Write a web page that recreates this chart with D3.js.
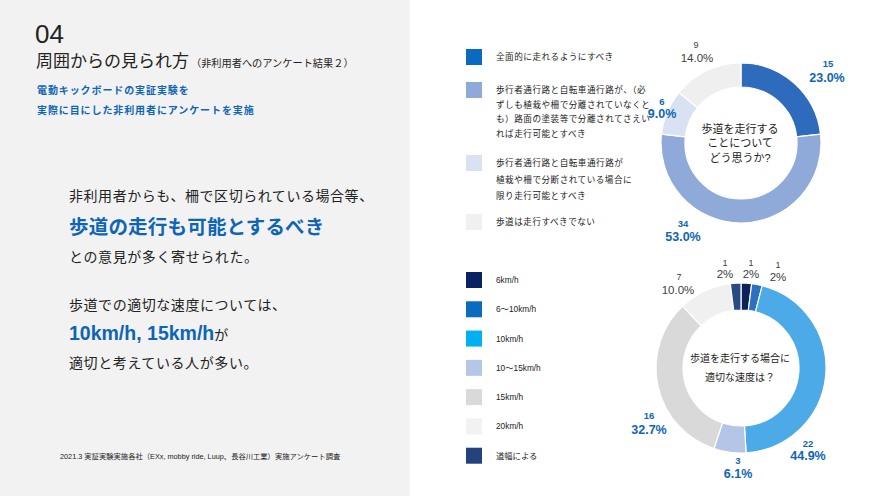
<!DOCTYPE html>
<html><head><meta charset="utf-8">
<script src="https://cdn.jsdelivr.net/npm/d3@7"></script>
<style>
html,body{margin:0;padding:0;background:#fff;}
svg{display:block;font-family:"Liberation Sans","Noto Sans CJK JP",sans-serif;}
</style></head>
<body><svg id="c" width="880" height="496"></svg>
<script>
// ---- data ----
const q1Categories = ["全面的に走れるようにすべき","歩行者通行路と自転車通行路が、（必ずしも植栽や柵で分離されていなくとも）路面の塗装等で分離されてさえいれば走行可能とすべき","歩行者通行路と自転車通行路が植栽や柵で分断されている場合に限り走行可能とすべき","歩道は走行すべきでない"];
const q1LegendLines = [
  ["全面的に走れるようにすべき"],
  ["歩行者通行路と自転車通行路が、（必","ずしも植栽や柵で分離されていなくと","も）路面の塗装等で分離されてさえい","れば走行可能とすべき"],
  ["歩行者通行路と自転車通行路が","植栽や柵で分断されている場合に","限り走行可能とすべき"],
  ["歩道は走行すべきでない"]
];
const q1Counts = [15, 34, 6, 9];
const q1Percents = [23.0, 53.0, 9.0, 14.0];
const q1PctLabels = ["23.0%","53.0%","9.0%","14.0%"];

const q2Categories = ["6km/h","6〜10km/h","10km/h","10〜15km/h","15km/h","20km/h","道幅による"];
const q2Counts = [1, 1, 22, 3, 16, 7, 1];
const q2Percents = [2, 2, 44.9, 6.1, 32.7, 10.0, 2];
const q2PctLabels = ["2%","2%","44.9%","6.1%","32.7%","10.0%","2%"];

// ---- styles / layout ----
const q1ArcColors = ["#2e6bbd","#8fa9d9","#d9e2f3","#efefef"];
const q1LegColors = ["#0a6abf","#8eaadb","#d9e2f3","#f0f0f0"];
const q1LabelBlue = [true,true,true,false];
const q1LabelOff = [[[87,-80],[86,-65]],[[-58,80],[-58,94]],[[-79,-42],[-79,-29]],[[-45,-98],[-44,-85]]];
const q1LegY = [49, 82, 155, 214];
const q1LineGap = [15, 14.7, 16.7, 15];

const q2ArcColors = ["#0c2259","#2e6fc0","#4daae8","#b4c5e7","#d9d9d9","#f0f0f0","#2a4a84"];
const q2LegColors = ["#0b2262","#0b6bbf","#00b0f0","#b4c7e7","#d9d9d9","#f2f2f2","#24437d"];
const q2LabelBlue = [false,false,true,true,true,false,false];
const q2LabelOff = [[[10,-105],[10,-94]],[[37,-103],[37,-91]],[[67,75],[67,88]],[[-3,92],[-3,106]],[[-92,47],[-92,62]],[[-62,-91],[-63,-78]],[[-16,-105],[-16,-94]]];

const BLUE = "#0f65b5", DARK = "#222", GREY = "#404040";
const svg = d3.select("#c");

// left panel
svg.append("rect").attr("x",0).attr("y",0).attr("width",410).attr("height",496).attr("fill","#f2f2f2");
svg.append("text").attr("x",35).attr("y",43).attr("font-size",26).attr("fill",DARK).text("04");
const t2 = svg.append("text").attr("x",36).attr("y",67).attr("fill",DARK);
t2.append("tspan").attr("font-size",17).text("周囲からの見られ方");
t2.append("tspan").attr("font-size",10.2).attr("dx",2).text("（非利用者へのアンケート結果２）");
svg.append("text").attr("x",37).attr("y",94).attr("font-size",10).attr("letter-spacing",0.9).attr("font-weight","bold").attr("fill",BLUE).text("電動キックボードの実証実験を");
svg.append("text").attr("x",37).attr("y",114).attr("font-size",10).attr("letter-spacing",0.9).attr("font-weight","bold").attr("fill",BLUE).text("実際に目にした非利用者にアンケートを実施");

const body = [
  {y:201, s:14, c:DARK, w:"normal", ls:0.55, t:"非利用者からも、柵で区切られている場合等、"},
  {y:234, s:19.5, c:BLUE, w:"bold", ls:0.2, t:"歩道の走行も可能とするべき"},
  {y:262, s:14, c:DARK, w:"normal", ls:0.6, t:"との意見が多く寄せられた。"},
  {y:310, s:14, c:DARK, w:"normal", ls:0.55, t:"歩道での適切な速度については、"},
  {y:368, s:14, c:DARK, w:"normal", ls:0.6, t:"適切と考えている人が多い。"}
];
body.forEach(b=>svg.append("text").attr("x",69).attr("y",b.y).attr("font-size",b.s).attr("letter-spacing",b.ls).attr("font-weight",b.w).attr("fill",b.c).text(b.t));
const sp = svg.append("text").attr("x",69).attr("y",340);
sp.append("tspan").attr("font-size",19.5).attr("font-weight","bold").attr("fill",BLUE).text("10km/h, 15km/h");
sp.append("tspan").attr("font-size",14).attr("fill",DARK).text("が");
svg.append("text").attr("x",60).attr("y",459).attr("font-size",7.3).attr("fill",DARK)
  .text("2021.3 実証実験実施各社（EXx, mobby ride, Luup、長谷川工業）実施アンケート調査");

// donut helper
function donut(cx, cy, rIn, rOut, values, colors, counts, pcts, offs, blue, centerLines, centerSize, centerGap){
  const g = svg.append("g").attr("transform",`translate(${cx},${cy})`);
  const pie = d3.pie().sort(null).value(d=>d)(values);
  const arc = d3.arc().innerRadius(rIn).outerRadius(rOut);
  g.selectAll("path").data(pie).join("path").attr("d",arc)
    .attr("fill",(d,i)=>colors[i]).attr("stroke","#fff").attr("stroke-width",1.2);
  pie.forEach((d,i)=>{
    const col = blue[i] ? BLUE : GREY;
    g.append("text").attr("x",offs[i][0][0]).attr("y",offs[i][0][1]).attr("text-anchor","middle")
      .attr("dominant-baseline","central").attr("font-size",blue[i]?9.5:9).attr("font-weight",blue[i]?"bold":"normal").attr("fill",col).text(counts[i]);
    g.append("text").attr("x",offs[i][1][0]).attr("y",offs[i][1][1]).attr("text-anchor","middle")
      .attr("dominant-baseline","central").attr("font-size",blue[i]?12.5:11.5).attr("font-weight",blue[i]?"bold":"normal").attr("fill",col).text(pcts[i]);
  });
  const n = centerLines.length;
  centerLines.forEach((t,i)=>{
    g.append("text").attr("x",-1).attr("y",(i-(n-1)/2)*centerGap).attr("text-anchor","middle")
      .attr("dominant-baseline","central").attr("font-size",centerSize).attr("fill",DARK).text(t);
  });
}
donut(741,143,56,80,q1Percents,q1ArcColors,q1Counts,q1PctLabels,q1LabelOff,q1LabelBlue,["歩道を走行する","ことについて","どう思うか?"],11,14.5);
donut(741,368,58,85,q2Percents,q2ArcColors,q2Counts,q2PctLabels,q2LabelOff,q2LabelBlue,["歩道を走行する場合に","適切な速度は？"],10,19);

// legends
q1Categories.forEach((c,i)=>{
  svg.append("rect").attr("x",466).attr("y",q1LegY[i]).attr("width",16).attr("height",16).attr("fill",q1LegColors[i]);
  q1LegendLines[i].forEach((l,j)=>{
    svg.append("text").attr("x",496).attr("y",q1LegY[i]+8+j*q1LineGap[i]).attr("dominant-baseline","central")
      .attr("font-size",8.6).attr("letter-spacing",0.5).attr("fill",DARK).text(l);
  });
});
const legY2 = d3.scaleBand().domain(q2Categories).range([272, 477]).paddingInner(0);
q2Categories.forEach((c,i)=>{
  const y = legY2(c);
  svg.append("rect").attr("x",466).attr("y",y).attr("width",16).attr("height",16).attr("fill",q2LegColors[i]);
  svg.append("text").attr("x",496).attr("y",y+8).attr("dominant-baseline","central").attr("font-size",8.3).attr("fill",DARK).text(c);
});
</script></body></html>
